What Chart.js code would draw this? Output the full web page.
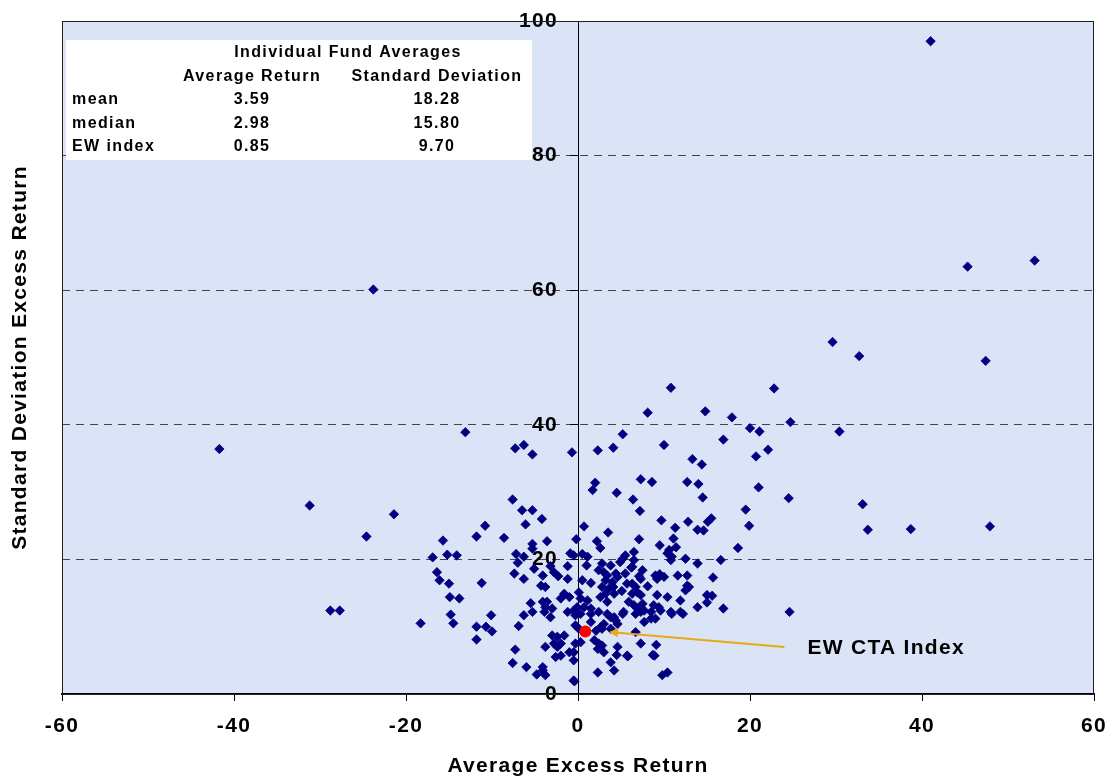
<!DOCTYPE html>
<html lang="en">
<head>
<meta charset="UTF-8">
<title>Individual Fund Averages</title>
<script src="https://cdn.jsdelivr.net/npm/chart.js@4/dist/chart.umd.min.js"></script>
<style>
  * { margin: 0; padding: 0; box-sizing: border-box; }
  body { background: #fff; width: 1107px; height: 779px; overflow: hidden; }
  #wrap { position: relative; width: 1107px; height: 779px; }
</style>
</head>
<body>
<div id="wrap"><canvas id="chart"></canvas></div>
<script>
// individual funds: average excess return (x) and its standard deviation (y)
const fundReturn = [
  41.0, 45.3, 53.1, 32.7, 29.6, 47.4, -23.8, 33.1, 33.7, 38.7, 47.9,
  22.8, 10.8, 8.1, 14.8, 17.9, 24.7, 20.0, 21.1, 30.4, 5.2, 16.9, 10.0, 4.1, 2.3, -0.7,
  22.1, 20.7, 13.3, 14.4, 7.3, 8.6, 12.7, 14.0, 2.0, 1.7, 4.5, 21.0, 14.5, 6.4, 24.5,
  7.2, 19.5, 19.9, 0.7, 9.7, 12.8, 15.1, 15.5, 11.3, 13.9, 14.6, 3.5, -0.2, 7.1,
  2.2, 2.6, 11.1, 11.4, 10.6, 10.4, 10.9, 10.8, 9.5, 18.6, 6.5, 5.5, 5.2, 4.9,
  6.5, 6.3, 12.5, 16.6, 13.9, 0.5, -0.5, -0.9, 1.1, 1.0, 2.8, 3.8, 2.4, 3.0,
  6.2, 7.5, 5.5, 7.1, 7.3, 9.0, 9.5, 10.0, 9.2, 11.6, 12.7, 15.7,
  3.4, 4.4, 4.6, 3.2, 4.0, 0.5, 1.5, -1.2, 2.8, 3.6, 4.1,
  5.7, 6.3, 6.7, 6.9, 6.3, 7.3, 8.1, 12.7, 12.9, 12.5, 5.1,
  3.2, 4.2, 2.6, 3.4, 0.1, 0.3, 1.1, 0.7, 1.5, -0.1, -0.5,
  -1.6, -1.0, -2.0, -3.6, -3.0, -3.8, 9.2, 10.4, 11.9, 15.0, 15.6, 15.0, 13.9, 16.9, 24.6,
  5.9, 6.5, 6.9, 7.5, 7.7, 8.8, 9.4, 9.6, 10.8, 11.9, 5.3, 12.2,
  5.2, 6.7, 7.3, 8.5, 10.9, 7.7, 8.5, 9.0, 6.7, 7.3, 9.1, 5.7, 8.7, 8.9, 9.8, 10.4,
  -3.9, -3.2, -1.2, -0.3, 0.3, 1.5, 2.4, 3.4, 3.8, 3.0, 4.4, 4.6, 3.8, 2.8, 2.1, 1.5, -0.3, 0.1,
  -3.0, -2.4, -1.6, -2.8, -2.4, -2.0, -3.8, -0.3, 0.3, -0.5, -1.0, -2.0, -2.6, -0.5,
  1.9, 2.4, 2.8, 2.3, 3.0, 4.6, 3.8, 4.2, 2.3, -4.1, -3.8, -0.5, -4.1,
  4.2, 2.6, 4.5, 5.8,
  -13.1, -7.3, -6.3, -5.3, -41.7, -31.2, -21.4, -24.6, -7.6, -6.5, -5.3, -6.1, -4.2,
  -10.8, -11.8, -15.7, -8.6, -3.6, -5.3, -5.3, -16.9, -15.2, -14.1, -7.2, -7.0, -6.3, -5.1,
  -3.2, -2.8, -2.3, -1.2, -16.4, -16.1, -15.0, -11.2, -7.4, -6.3, -4.1, -4.3, -3.8,
  -14.9, -13.8, -5.5, -4.1, -28.8, -27.7, -18.3, -14.8, -14.5, -10.1, -11.8, -10.7, -10.0, -11.8,
  -6.3, -5.3, -6.9, -7.3, -7.6, -6.0, -4.8, -0.4
];
const fundStdDev = [
  97.0, 63.5, 64.4, 50.2, 52.3, 49.5, 60.1, 28.2, 24.4, 24.5, 24.9,
  45.4, 45.5, 41.8, 42.0, 41.1, 40.4, 39.5, 39.0, 39.0, 38.6, 37.8, 37.0, 36.6, 36.2, 35.9,
  36.3, 35.3, 34.9, 34.1, 31.9, 31.5, 31.5, 31.2, 31.4, 30.3, 29.9, 30.7, 29.2, 28.9, 29.1,
  27.2, 27.4, 25.0, 24.9, 25.8, 25.6, 25.6, 26.1, 24.7, 24.4, 24.3, 24.0, 23.0, 23.0,
  22.7, 21.7, 23.1, 21.8, 21.4, 20.9, 20.4, 19.9, 22.1, 21.7, 21.1, 20.6, 20.1, 19.6,
  19.9, 18.9, 20.1, 19.9, 19.4, 20.8, 20.6, 20.9, 20.4, 19.1, 19.4, 19.1, 18.4, 18.1,
  18.8, 18.4, 17.9, 17.5, 17.1, 17.6, 17.8, 17.4, 17.1, 17.6, 17.6, 17.3,
  17.6, 17.9, 17.4, 16.9, 16.6, 16.9, 16.5, 17.1, 15.9, 15.7, 15.9,
  16.4, 16.4, 15.9, 15.1, 14.9, 14.7, 16.0, 16.1, 15.9, 15.4, 15.3,
  14.9, 14.9, 14.4, 13.7, 15.1, 14.2, 13.9, 12.9, 12.7, 12.9, 12.4,
  14.9, 14.4, 14.2, 13.7, 12.7, 12.9, 14.7, 14.4, 13.9, 14.7, 14.6, 13.6, 12.9, 12.7, 12.2,
  13.7, 13.2, 12.7, 13.4, 12.4, 13.2, 12.9, 12.4, 12.2, 12.2, 12.2, 11.9,
  11.9, 11.9, 12.2, 12.2, 11.9, 10.7, 11.2, 11.2, 9.2, 7.5, 7.3, 5.7, 5.8, 5.7, 2.8, 3.2,
  12.2, 11.4, 12.2, 11.7, 11.9, 11.9, 12.2, 11.9, 11.4, 10.4, 10.9, 10.4, 9.7, 9.7, 9.4, 10.7, 10.2, 9.7,
  8.7, 8.5, 8.7, 7.5, 7.0, 7.5, 7.0, 7.5, 7.7, 6.2, 6.2, 5.7, 5.5, 5.0,
  8.0, 7.5, 7.2, 6.7, 6.2, 7.0, 4.7, 3.5, 3.2, 3.5, 2.8, 2.0, 4.0,
  11.4, 9.9, 5.8, 5.6,
  38.9, 36.5, 37.0, 35.6, 36.4, 28.0, 26.7, 23.4, 28.9, 27.3, 27.3, 25.2, 26.0,
  25.0, 23.4, 22.8, 23.2, 22.7, 22.3, 21.6, 20.3, 20.7, 20.6, 20.8, 19.5, 20.4, 18.6,
  19.0, 18.1, 17.5, 19.0, 18.1, 16.9, 16.4, 16.5, 17.9, 17.1, 17.6, 16.1, 15.9,
  14.4, 14.2, 13.5, 13.7, 12.4, 12.4, 10.5, 11.8, 10.5, 11.7, 10.0, 10.0, 9.3, 8.1,
  11.7, 12.2, 10.1, 6.6, 4.6, 4.0, 2.9, 1.9
];

// equally weighted CTA index
const ewReturn = [0.85];
const ewStdDev = [9.3];

const xTickValues = [-60, -40, -20, 0, 20, 40, 60];
const yTickValues = [0, 20, 40, 60, 80, 100];

// summary table
const tableTitle = 'Individual Fund Averages';
const tableHeaders = ['Average Return', 'Standard Deviation'];
const tableRows = ['mean', 'median', 'EW index'];
const tableAvgReturn = ['3.59', '2.98', '0.85'];
const tableStdDev = ['18.28', '15.80', '9.70'];

// arrow callout (data coordinates)
const calloutText = 'EW CTA Index';
const calloutFrom = [24.0, 7.0];
const calloutTo = [3.6, 9.2];

const FONT = '"Liberation Sans", Arial, sans-serif';
const SPACING = '1.3px';
const PLOT_BG = '#dae4f6';
const NAVY = '#000080';

const decorations = {
  id: 'decorations',
  beforeLayout(chart) {
    chart.ctx.letterSpacing = SPACING;
  },
  beforeDraw(chart) {
    const { ctx, chartArea: a } = chart;
    ctx.letterSpacing = SPACING;
    ctx.save();
    ctx.fillStyle = PLOT_BG;
    ctx.fillRect(a.left, a.top, a.right - a.left, a.bottom - a.top);
    ctx.restore();
  },
  afterDraw(chart) {
    const { ctx, chartArea: a, scales: { x, y } } = chart;
    ctx.save();
    // plot frame
    ctx.strokeStyle = '#222';
    ctx.lineWidth = 1;
    ctx.strokeRect(a.left + 0.5, a.top + 0.5, a.right - a.left - 1, a.bottom - a.top);

    // y-axis title
    ctx.save();
    ctx.translate(20, (a.top + a.bottom) / 2);
    ctx.rotate(-Math.PI / 2);
    ctx.font = 'bold 21px ' + FONT;
    ctx.letterSpacing = SPACING;
    ctx.fillStyle = '#000';
    ctx.textAlign = 'center';
    ctx.textBaseline = 'middle';
    ctx.fillText('Standard Deviation Excess Return', 0, 0);
    ctx.restore();

    // summary table
    const bx = a.left + 4, by = a.top + 19;
    ctx.fillStyle = '#fff';
    ctx.fillRect(bx, by, 466, 120);
    ctx.fillStyle = '#000';
    ctx.font = 'bold 16px ' + FONT;
    ctx.letterSpacing = '1.4px';
    ctx.textBaseline = 'middle';
    ctx.textAlign = 'center';
    const c1 = bx + 186, c2 = bx + 371;
    ctx.fillText(tableTitle, bx + 282, by + 13);
    ctx.fillText(tableHeaders[0], c1, by + 37);
    ctx.fillText(tableHeaders[1], c2, by + 37);
    tableRows.forEach((r, i) => {
      const ry = by + 60 + i * 23.5;
      ctx.textAlign = 'left';
      ctx.fillText(r, bx + 6, ry);
      ctx.textAlign = 'center';
      ctx.fillText(tableAvgReturn[i], c1, ry);
      ctx.fillText(tableStdDev[i], c2, ry);
    });

    // callout arrow
    const x1 = x.getPixelForValue(calloutFrom[0]), y1 = y.getPixelForValue(calloutFrom[1]);
    const x2 = x.getPixelForValue(calloutTo[0]), y2 = y.getPixelForValue(calloutTo[1]);
    const ang = Math.atan2(y2 - y1, x2 - x1);
    ctx.strokeStyle = '#e8aa14';
    ctx.fillStyle = '#e8aa14';
    ctx.lineWidth = 2;
    ctx.beginPath();
    ctx.moveTo(x1, y1);
    ctx.lineTo(x2 - 6 * Math.cos(ang), y2 - 6 * Math.sin(ang));
    ctx.stroke();
    ctx.beginPath();
    ctx.moveTo(x2, y2);
    ctx.lineTo(x2 - 9 * Math.cos(ang) + 4.5 * Math.sin(ang), y2 - 9 * Math.sin(ang) - 4.5 * Math.cos(ang));
    ctx.lineTo(x2 - 9 * Math.cos(ang) - 4.5 * Math.sin(ang), y2 - 9 * Math.sin(ang) + 4.5 * Math.cos(ang));
    ctx.closePath();
    ctx.fill();

    ctx.fillStyle = '#000';
    ctx.font = 'bold 21px ' + FONT;
    ctx.letterSpacing = SPACING;
    ctx.textAlign = 'left';
    ctx.textBaseline = 'middle';
    ctx.fillText(calloutText, x1 + 23, y1 + 1);
    ctx.restore();
  }
};

new Chart(document.getElementById('chart'), {
  type: 'scatter',
  data: {
    datasets: [
      {
        label: 'EW CTA Index',
        data: ewReturn.map((v, i) => ({ x: v, y: ewStdDev[i] })),
        pointStyle: 'circle',
        pointRadius: 6,
        backgroundColor: '#ff0000',
        borderColor: '#ff0000',
        borderWidth: 0
      },
      {
        label: 'Funds',
        data: fundReturn.map((v, i) => ({ x: v, y: fundStdDev[i] })),
        pointStyle: 'rectRot',
        pointRadius: 4.7,
        backgroundColor: NAVY,
        borderColor: NAVY,
        borderWidth: 0.8
      }
    ]
  },
  options: {
    responsive: true,
    maintainAspectRatio: false,
    animation: false,
    layout: { padding: { left: 62, right: 13, top: 21, bottom: 0 } },
    plugins: { legend: { display: false }, tooltip: { enabled: false } },
    scales: {
      x: {
        type: 'linear',
        min: -60, max: 60,
        afterBuildTicks: s => { s.ticks = xTickValues.map(v => ({ value: v })); },
        afterFit: s => { s.height = 85; s.paddingLeft = 0; s.paddingRight = 0; },
        ticks: { color: '#000', font: { family: FONT, size: 21, weight: 'bold' }, padding: 13, maxRotation: 0 },
        grid: { drawOnChartArea: false, drawTicks: true, tickLength: 7, color: '#000', tickColor: '#000' },
        border: { color: '#000', width: 2 },
        title: {
          display: true, text: 'Average Excess Return', color: '#000',
          font: { family: FONT, size: 21, weight: 'bold' }, padding: { top: 0, bottom: 0 }
        }
      },
      y: {
        type: 'linear',
        min: 0, max: 100,
        position: 'center',
        afterBuildTicks: s => { s.ticks = yTickValues.map(v => ({ value: v })); },
        afterFit: s => { s.paddingTop = 0; s.paddingBottom = 0; s.paddingLeft = 0; s.paddingRight = 0; },
        ticks: { color: '#000', font: { family: FONT, size: 21, weight: 'bold' }, padding: 12 },
        grid: {
          color: c => (c.tick && (c.tick.value === 0 || c.tick.value === 100)) ? 'rgba(0,0,0,0)' : '#444',
          lineWidth: 1,
          tickLength: 8,
          tickColor: '#000'
        },
        border: { color: '#000', width: 1, dash: [8, 6] }
      }
    }
  },
  plugins: [decorations]
});
</script>
</body>
</html>
